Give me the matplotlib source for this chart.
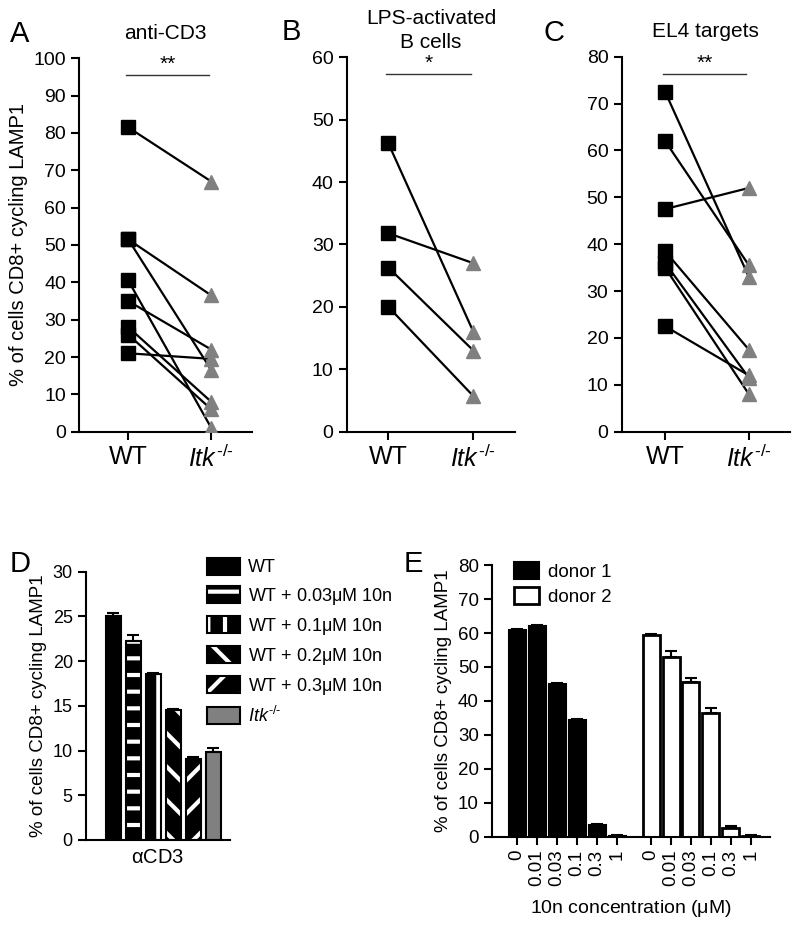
import numpy as np
import matplotlib
matplotlib.use("Agg")
from matplotlib import pyplot as plt
from matplotlib.patches import Patch

plt.rcParams['font.family'] = ['Liberation Sans', 'DejaVu Sans']
plt.rcParams['mathtext.fontset'] = 'custom'
plt.rcParams['mathtext.rm'] = 'Liberation Sans'
plt.rcParams['mathtext.it'] = 'Liberation Sans:italic'
plt.rcParams['hatch.linewidth'] = 3.0

ITK = r'$\mathit{Itk}^{\mathit{\text{-/-}}}$'
GRAY = '#808080'

# panel A-C: paired WT vs Itk-/-
groups = ['WT', ITK]
a_wt = [81.5, 51.5, 51.5, 40.5, 35, 28, 26, 21]
a_itk = [67, 36.5, 16.5, 1, 22, 8, 6, 19.5]
b_wt = [46.2, 31.8, 26.3, 20]
b_itk = [16, 27, 13, 5.7]
c_wt = [72.5, 62, 47.5, 38.5, 36, 35, 22.5]
c_itk = [33, 35.5, 52, 17.5, 11.5, 8, 12]

# panel D
d_labels = ['WT', r'WT + 0.03$\mathrm{\mu}$M 10n', r'WT + 0.1$\mathrm{\mu}$M 10n',
            r'WT + 0.2$\mathrm{\mu}$M 10n', r'WT + 0.3$\mathrm{\mu}$M 10n', ITK]
d_vals = [25.1, 22.3, 18.6, 14.5, 9.1, 9.8]
d_err = [0.3, 0.6, 0.1, 0.1, 0.2, 0.5]

# panel E
e_conc = ['0', '0.01', '0.03', '0.1', '0.3', '1']
e_d1 = [61, 62, 45, 34.5, 3.5, 0.3]
e_d1_err = [0.3, 0.3, 0.2, 0.3, 0.3, 0.1]
e_d2 = [59.5, 53, 45.5, 36.5, 2.5, 0.3]
e_d2_err = [0.1, 1.8, 1.2, 1.5, 0.5, 0.1]

fig = plt.figure(figsize=(8, 9.25), dpi=100)


def style(ax, ysize=14):
    for s in ['top', 'right']:
        ax.spines[s].set_visible(False)
    for s in ['left', 'bottom']:
        ax.spines[s].set_linewidth(1.5)
    ax.tick_params(width=1.5, length=6, labelsize=ysize)


def paired(rect, wt, itk, ymax, step, title, stars, xl, pad=14):
    ax = fig.add_axes(rect)
    for w, k in zip(wt, itk):
        ax.plot([0, 1], [w, k], color='k', lw=1.6, zorder=2)
    ax.plot(np.zeros(len(wt)), wt, 's', color='k', ms=10, zorder=3)
    ax.plot(np.ones(len(itk)), itk, '^', color=GRAY, ms=10, mec=GRAY, zorder=3)
    ax.set_ylim(0, ymax)
    ax.set_xlim(xl, 1.49)
    ax.set_yticks(np.arange(0, ymax + 1, step))
    ax.set_xticks([0, 1])
    style(ax)
    ax.set_xticklabels(groups, fontsize=18)
    y = ymax * 0.955
    ax.plot([-0.03, 0.97], [y, y], color='#333333', lw=1, clip_on=False)
    ax.text(0.47, y + ymax * 0.003, stars, ha='center', va='bottom', fontsize=15)
    ax.set_title(title, fontsize=15, pad=pad, linespacing=1.3)
    return ax


axA = paired([0.099, 0.5333, 0.216, 0.4037], a_wt, a_itk, 100, 10, 'anti-CD3', '**', -0.59)
axA.set_ylabel('% of cells CD8+ cycling LAMP1', fontsize=14.5, labelpad=4)
axB = paired([0.4334, 0.5333, 0.2104, 0.4048], b_wt, b_itk, 60, 10, 'LPS-activated\nB cells', '*', -0.49, pad=7)
axC = paired([0.777, 0.5333, 0.2104, 0.4054], c_wt, c_itk, 80, 10, 'EL4 targets', '**', -0.52)

# panel D
axD = fig.add_axes([0.1075, 0.0919, 0.18, 0.290])
xd = np.arange(len(d_vals))
hatches = [None, '-', '|', '\\', '/', None]
faces = ['k', 'k', 'k', 'k', 'k', GRAY]
handles = []
for i in range(len(d_vals)):
    if hatches[i]:
        axD.bar(xd[i], d_vals[i], 0.78, color=faces[i], edgecolor='white', hatch=hatches[i], lw=0)
    else:
        axD.bar(xd[i], d_vals[i], 0.78, color=faces[i], lw=0)
    axD.bar(xd[i], d_vals[i], 0.78, fill=False, edgecolor='k', lw=1.5)
    if hatches[i]:
        handles.append((Patch(facecolor=faces[i], edgecolor='white', hatch=hatches[i], lw=0),
                        Patch(fill=False, edgecolor='k', lw=1.5)))
    else:
        handles.append(Patch(facecolor=faces[i], edgecolor='k', lw=1.5))
axD.errorbar(xd, d_vals, yerr=[np.zeros(len(d_err)), d_err], fmt='none', ecolor='k',
             elinewidth=1.5, capsize=4, capthick=1.5)
axD.set_ylim(0, 30)
axD.set_yticks(np.arange(0, 31, 5))
axD.set_xlim(-1.37, 5.83)
axD.set_xticks([])
style(axD, 13)
axD.set_xlabel(r'$\mathrm{\alpha}$CD3', fontsize=14.5, labelpad=6)
axD.set_ylabel('% of cells CD8+ cycling LAMP1', fontsize=13.5, labelpad=4)
fig.legend(handles, d_labels, loc='upper left', bbox_to_anchor=(0.259, 0.3968),
           frameon=False, fontsize=13, handlelength=1.8, handleheight=1.05,
           labelspacing=0.5, handletextpad=0.45, borderpad=0, borderaxespad=0)

# panel E
axE = fig.add_axes([0.615, 0.0955, 0.3475, 0.2935])
x1 = np.arange(len(e_d1))
x2 = x1 + 6.7
axE.bar(x1, e_d1, 0.85, color='k', edgecolor='k', lw=1.5, label='donor 1')
axE.bar(x2, e_d2, 0.85, color='white', edgecolor='k', lw=2, label='donor 2')
axE.errorbar(x1, e_d1, yerr=[np.zeros(6), e_d1_err], fmt='none', ecolor='k',
             elinewidth=1.5, capsize=4, capthick=1.5)
axE.errorbar(x2, e_d2, yerr=[np.zeros(6), e_d2_err], fmt='none', ecolor='k',
             elinewidth=1.5, capsize=4, capthick=1.5)
axE.set_ylim(0, 80)
axE.set_yticks(np.arange(0, 81, 10))
axE.set_xlim(-1.25, 12.65)
axE.set_xticks(np.concatenate([x1, x2]))
style(axE, 13.5)
axE.set_xticklabels(e_conc + e_conc, rotation=90, va='top', ha='center')
axE.set_xlabel(r'10n concentration ($\mathrm{\mu}$M)', fontsize=14, labelpad=8)
axE.set_ylabel('% of cells CD8+ cycling LAMP1', fontsize=13.5, labelpad=4)
axE.legend(loc='upper left', bbox_to_anchor=(0.08, 1.01), frameon=False, fontsize=13.5,
           handlelength=1.3, handleheight=1.0, labelspacing=0.3, handletextpad=0.5,
           borderpad=0, borderaxespad=0)

# panel letters
for lab, x, y in [('A', 0.012, 0.978), ('B', 0.352, 0.98), ('C', 0.679, 0.979),
                  ('D', 0.012, 0.405), ('E', 0.505, 0.405)]:
    fig.text(x, y, lab, fontsize=21, va='top', ha='left')

fig.savefig('out.png', dpi=100)
